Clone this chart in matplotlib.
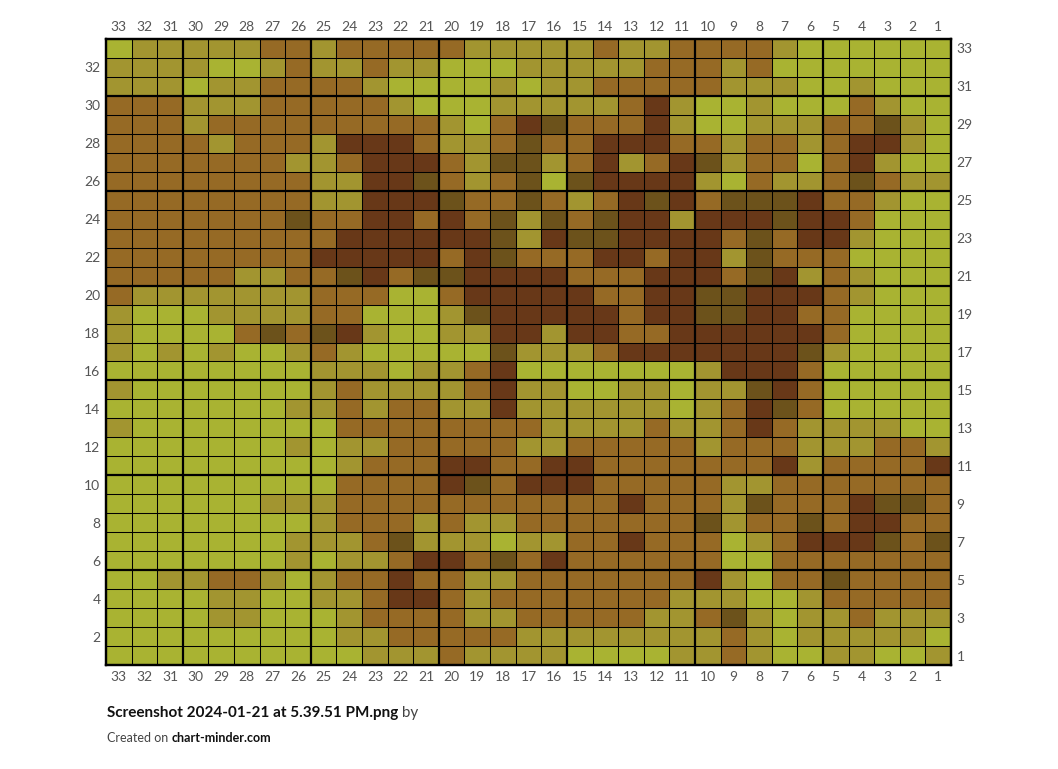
import numpy as np
import matplotlib.pyplot as plt
from matplotlib.colors import ListedColormap

plt.rcParams['font.family'] = ['Lato', 'DejaVu Sans']

# G yellow-green, O olive, B ochre, D dark brown, K dark olive
palette = {'G': '#a9b332', 'O': '#a29530', 'B': '#966a25', 'D': '#683818', 'K': '#6c521b'}

# one string per row, top (33) to bottom (1), columns 33 -> 1
rows = [
    'GOOOOOBBOBB' 'BBBOOOOOBOO' 'BBBBOGGGGGG',
    'OOOOGGOBOOB' 'OOGGGOOOOOB' 'BBOBGGGGGGG',
    'OOOGOOBBBBO' 'GGGGOGOOBBB' 'BBOOOGGOGGG',
    'BBBOOOBBBBB' 'OGGGOOOOOBD' 'OGGOGGGBOGG',
    'BBBOBBBBBBB' 'BBOGBDKBBBD' 'OGGOOOBBKOG',
    'BBBBOBBBODD' 'DBOOBKBBDDD' 'BBOBBOBDDOG',
    'BBBBBBBOOBD' 'DDBOKKOBDOB' 'DKOBBGBDOGG',
    'BBBBBBBBOOD' 'DKBOBKGKDDD' 'DOGBOOBKBOO',
    'BBBBBBBBOOD' 'DDKBBKBOBDK' 'DBKKKDBBOGG',
    'BBBBBBBKBBD' 'DBDBKOKBKDD' 'ODDDKDDBGGG',
    'BBBBBBBBBDD' 'DDDDKODKKDD' 'DDBKBDDOGGG',
    'BBBBBBBBDDD' 'DDBDKBBBDDB' 'DDOKBBBGGGG',
    'BBBBBOOBBKD' 'BKKDDDDBBBD' 'DDBKDOBOGGG',
    'BOOOOOOOBBB' 'GGBDDDDDBBD' 'DKKDDDBOGGG',
    'OGGGOOOOBBG' 'GGOKDDDDDBD' 'DKKDDBBGGGG',
    'OGGGGBKBKDO' 'GGOODDODDBB' 'DDDDDDBGGGG',
    'OGOGOGGOBOG' 'GGGGKOOOBDD' 'DDDDDKOGGGG',
    'GGGGGGGGOOO' 'GOOBDGGGGGG' 'GODDDBGGGGG',
    'OGGGGGGGOBO' 'OOOBDOOGGOO' 'GOOKDBGGGGG',
    'GGGGGGGOOBO' 'BBOODOOOOOO' 'GOBDKBGGGGG',
    'OGGGGGGGGBB' 'BBBBBBOOOOB' 'OOBDBOOOOGG',
    'GGGGGGGOGOO' 'BBBBBOOBBBB' 'BOBBBOOOBBO',
    'GGGGGGGGGOB' 'BBDDBBDDBBB' 'BBBBDOBBBBD',
    'GGGGGGGGGBB' 'BBDKBDDDBBB' 'BBOOBBBBBBB',
    'GGGGGGOOOBB' 'BBBBBBBBBDB' 'BBOKBBBDKKB',
    'GGGGGGGGOBB' 'BOBOOBBBBBB' 'BKOBBKBDDBB',
    'GGGGGGGOOOB' 'KOOOGOOBBDB' 'BBGOBDDDKBK',
    'GGGGGGGOGOO' 'BDDBKBDBBBB' 'BBGGBBBBBBB',
    'GGOOBBOGOBB' 'DBBOOBBBBBB' 'BDOGBBKBBBB',
    'GGGGOOGGOOB' 'DDBOBBBBBBB' 'OOOGGOBBBBB',
    'GGGGOOGGGOB' 'BBBOOBBBBBO' 'OBKOGOOBOOO',
    'GGGGGGGGGOO' 'BBBBBOOOOOO' 'OOBOGOOOOOG',
    'GGGGGGGGGGO' 'OOBOOOOGGGG' 'OOBOGGOOGGO',
]
col_labels = list(range(33, 0, -1))
row_labels = list(range(33, 0, -1))

keys = list(palette)
grid = np.array([[keys.index(c) for c in r] for r in rows])
cmap = ListedColormap([palette[k] for k in keys])
n = len(col_labels)

fig = plt.figure(figsize=(10.58, 7.69), dpi=100)
ax = fig.add_axes([106 / 1058, 104 / 769, 845 / 1058, 626 / 769])
ax.pcolormesh(np.arange(n + 1), np.arange(n + 1), grid, cmap=cmap, vmin=-0.5, vmax=4.5)
ax.set_xlim(0, n)
ax.set_ylim(n, 0)
# cell borders: thin everywhere, heavier every 5 cells
for k in range(1, n):
    lw = 1.6 if k % 5 == 3 else 0.75
    ax.axvline(k, color='black', lw=lw)
    ax.axhline(k, color='black', lw=lw)

ax.set_xticks(np.arange(n) + 0.5)
ax.set_xticklabels(col_labels)
ax.tick_params(axis='x', top=True, labeltop=True, bottom=True, labelbottom=True)
even = [j for j in range(n) if row_labels[j] % 2 == 0]
odd = [j for j in range(n) if row_labels[j] % 2 == 1]
ax.set_yticks(np.array(even) + 0.5)
ax.set_yticklabels([row_labels[j] for j in even])
ax2 = ax.twinx()
ax2.set_ylim(n, 0)
ax2.set_yticks(np.array(odd) + 0.5)
ax2.set_yticklabels([row_labels[j] for j in odd])
for a in (ax, ax2):
    a.tick_params(length=0, pad=4, labelsize=10, labelcolor='#555555')
    for s in a.spines.values():
        s.set_linewidth(1.6)

fig.canvas.draw()
r = fig.canvas.get_renderer()
t1 = fig.text(107 / 1058, 1 - 713 / 769, 'Screenshot 2024-01-21 at 5.39.51 PM.png',
              fontsize=11, weight='bold', va='center', color='#111111')
bb = t1.get_window_extent(r)
fig.text(bb.x1 / fig.bbox.width, 1 - 713 / 769, ' by', fontsize=11, va='center', color='#444444')
t2 = fig.text(107 / 1058, 1 - 738 / 769, 'Created on ', fontsize=9, va='center', color='#444444')
bb = t2.get_window_extent(r)
fig.text(bb.x1 / fig.bbox.width, 1 - 738 / 769, 'chart-minder.com', fontsize=9, weight='bold',
         va='center', color='#111111')

fig.savefig('out.png', dpi=100)
